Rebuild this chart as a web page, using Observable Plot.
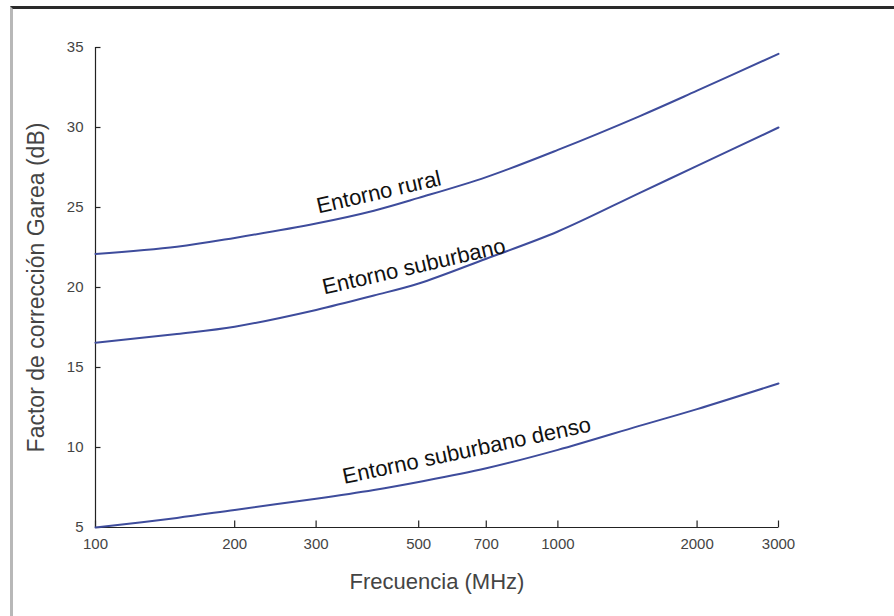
<!DOCTYPE html>
<html><head><meta charset="utf-8">
<script src="https://cdn.jsdelivr.net/npm/d3@7"></script>
<script src="https://cdn.jsdelivr.net/npm/@observablehq/plot@0.6"></script>
<style>
html,body{margin:0;padding:0;background:#fff;}
#wrap{position:relative;width:894px;height:616px;overflow:hidden;}
#wrap svg{position:absolute;left:0;top:0;}
#frame{position:absolute;left:10px;top:6px;right:0;bottom:0;border-top:3px solid #2a2a2a;border-left:3px solid #b8b8b8;pointer-events:none;}
</style></head><body><div id="wrap"><div id="frame"></div></div>
<script>
const freqs = [100, 150, 200, 300, 400, 500, 700, 1000, 1500, 2000, 3000];
const rural = [22.1, 22.55, 23.1, 24.0, 24.8, 25.6, 26.9, 28.6, 30.7, 32.3, 34.6];
const suburbano = [16.55, 17.1, 17.55, 18.6, 19.5, 20.25, 21.8, 23.5, 25.9, 27.6, 30.0];
const denso = [5.0, 5.6, 6.1, 6.8, 7.35, 7.85, 8.7, 9.85, 11.35, 12.4, 14.0];
const seriesNames = ["Entorno rural", "Entorno suburbano", "Entorno suburbano denso"];
const xTicks = [100, 200, 300, 500, 700, 1000, 2000, 3000];
const yTicks = [5, 10, 15, 20, 25, 30, 35];
const labelFreq = [410, 488, 635];
const labelValue = [25.95, 21.3, 9.8];
const labelAngle = [-13, -13, -12];

const seriesValues = [rural, suburbano, denso];
const rows = seriesValues.flatMap((vals, i) => vals.map((v, j) => ({series: seriesNames[i], f: freqs[j], v})));
const labels = seriesNames.map((name, i) => ({name, f: labelFreq[i], v: labelValue[i], a: labelAngle[i]}));

const tickUp = {draw(ctx) { ctx.moveTo(0, 0); ctx.lineTo(0, -7); }};
const tickRight = {draw(ctx) { ctx.moveTo(0, 0); ctx.lineTo(5, 0); }};

const font = "'Liberation Sans', Arial, Helvetica, sans-serif";
const chart = Plot.plot({
  width: 894,
  height: 616,
  marginLeft: 95,
  marginRight: 116,
  marginTop: 47,
  marginBottom: 89,
  style: {fontFamily: font, background: "transparent", overflow: "visible"},
  x: {type: "log", domain: [100, 3000]},
  y: {domain: [5, 35]},
  marks: [
    Plot.ruleX([100], {stroke: "#222", strokeWidth: 1.2}),
    Plot.ruleY([5], {stroke: "#222", strokeWidth: 1.2}),
    Plot.dot(yTicks, {y: d => d, frameAnchor: "left", symbol: tickRight, stroke: "#222", fill: "none", strokeWidth: 1.2}),
    Plot.dot(xTicks, {x: d => d, frameAnchor: "bottom", symbol: tickUp, stroke: "#222", fill: "none", strokeWidth: 1.2}),
    Plot.axisY({ticks: yTicks, tickSize: 0, tickPadding: 12, tickFormat: d => String(d), fontSize: 15, fill: "#444",
      label: "Factor de corrección Garea (dB)", labelAnchor: "center", labelArrow: "none", labelOffset: 68}),
    Plot.axisX({ticks: xTicks, tickSize: 0, tickPadding: 11, tickFormat: d => String(d), fontSize: 15, fill: "#444",
      label: "Frecuencia (MHz)", labelAnchor: "center", labelArrow: "none", labelOffset: 61}),
    Plot.line(rows, {x: "f", y: "v", z: "series", stroke: "#3e4c9c", strokeWidth: 2, curve: "catmull-rom"}),
    Plot.text(labels, {x: "f", y: "v", text: "name", rotate: "a", fontSize: 22, fill: "#111"})
  ]
});
chart.querySelectorAll("g[aria-label='y-axis label'] text").forEach(t => t.setAttribute("font-size", "23"));
chart.querySelectorAll("g[aria-label='x-axis label'] text").forEach(t => t.setAttribute("font-size", "22"));
document.getElementById("wrap").insertBefore(chart, document.getElementById("frame"));
</script>
</body></html>
